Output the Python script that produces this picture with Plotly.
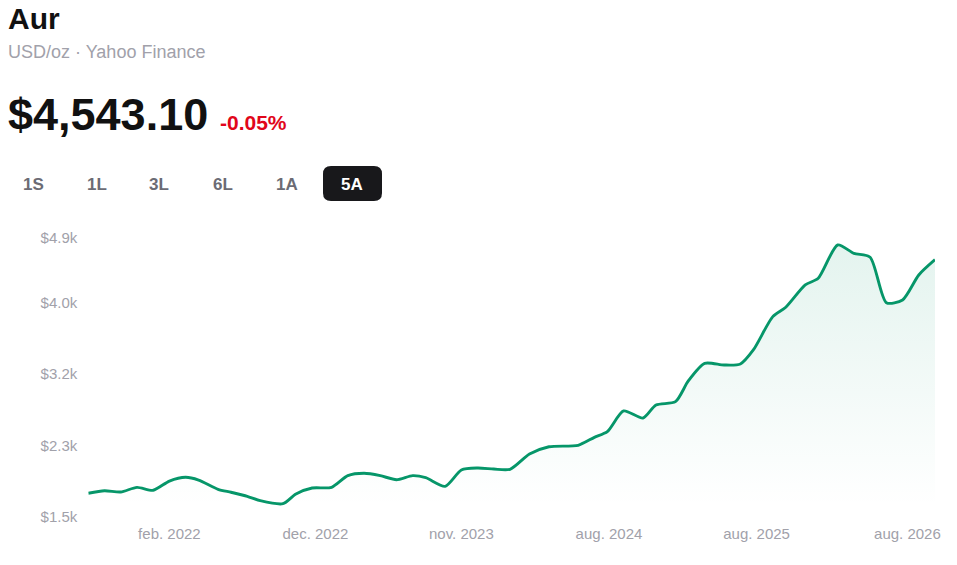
import plotly.graph_objects as go

# Gold price, 5 years (value in thousands of USD), x = week index
week = [0, 5, 10, 15, 20, 25, 30, 34, 40, 44, 49, 53, 60, 64, 69, 75, 80, 85, 90,
        95, 100, 104, 110, 115, 120, 125, 130, 136, 142, 151, 156, 160, 165, 171,
        175, 181, 185, 190, 196, 201, 205, 211, 215, 221, 225, 231, 236, 241, 246,
        251, 256, 261]
price_k = [1.759, 1.790, 1.774, 1.830, 1.795, 1.905, 1.950, 1.917, 1.807, 1.771,
           1.723, 1.671, 1.635, 1.751, 1.822, 1.830, 1.969, 1.997, 1.969, 1.921,
           1.969, 1.945, 1.842, 2.037, 2.060, 2.048, 2.045, 2.227, 2.314, 2.331,
           2.426, 2.493, 2.740, 2.656, 2.811, 2.851, 3.101, 3.308, 3.288, 3.300,
           3.467, 3.864, 3.976, 4.242, 4.321, 4.718, 4.619, 4.572, 4.031, 4.063,
           4.361, 4.5431]

x_tick_weeks = [25, 70, 115, 160.5, 206, 252.5]
x_tick_labels = ["feb. 2022", "dec. 2022", "nov. 2023", "aug. 2024", "aug. 2025", "aug. 2026"]
y_tick_vals = [1.48, 2.33, 3.18, 4.03, 4.80]
y_tick_labels = ["$1.5k", "$2.3k", "$3.2k", "$4.0k", "$4.9k"]

ranges = ["1S", "1L", "3L", "6L", "1A", "5A"]
range_x = [33, 97, 159, 223, 287, 352]
active_range = "5A"

W, H = 957, 565
OFF = 8  # page body margin
FONT = "Liberation Sans, Arial, sans-serif"
GREEN = "#069669"
GREY = "#a1a1aa"


def px(x):
    return (x - OFF) / W


def py(y):
    return 1 - (y - OFF) / H


fig = go.Figure()
fig.add_trace(go.Scatter(
    x=week, y=price_k,
    mode="lines",
    line=dict(color=GREEN, width=2.9, shape="spline", smoothing=0.7),
    fill="tozeroy",
    fillgradient=dict(type="vertical", start=1.6, stop=4.75,
                      colorscale=[[0, "rgba(6,150,105,0)"], [1, "rgba(6,150,105,0.11)"]]),
    hoverinfo="skip",
    showlegend=False,
))

annotations = [
    dict(text="<b>Aur</b>", x=px(OFF), y=py(19), font=dict(size=30, color="#111111")),
    dict(text="USD/oz · Yahoo Finance", x=px(OFF), y=py(52), font=dict(size=18, color=GREY)),
    dict(text="<b>$4,543.10</b>", x=px(OFF), y=py(114), font=dict(size=45, color="#111111")),
    dict(text="<b>-0.05%</b>", x=px(220), y=py(123), font=dict(size=21, color="#e1061a")),
]
for name, cx in zip(ranges, range_x):
    annotations.append(dict(
        text=f"<b>{name}</b>", x=px(cx), y=py(184), xanchor="center",
        font=dict(size=17, color="#ffffff" if name == active_range else "#6b6b74"),
    ))
for a in annotations:
    a.setdefault("xanchor", "left")
    a.update(xref="paper", yref="paper", yanchor="middle", showarrow=False,
             borderpad=0, borderwidth=0)

# rounded background for the active range button
x0, x1, y0, y1, r = 323, 382, 166, 201, 8
path = (f"M {px(x0 + r)} {py(y0)} L {px(x1 - r)} {py(y0)} Q {px(x1)} {py(y0)} {px(x1)} {py(y0 + r)} "
        f"L {px(x1)} {py(y1 - r)} Q {px(x1)} {py(y1)} {px(x1 - r)} {py(y1)} "
        f"L {px(x0 + r)} {py(y1)} Q {px(x0)} {py(y1)} {px(x0)} {py(y1 - r)} "
        f"L {px(x0)} {py(y0 + r)} Q {px(x0)} {py(y0)} {px(x0 + r)} {py(y0)} Z")

fig.update_layout(
    width=W, height=H,
    margin=dict(l=0, r=0, t=0, b=0),
    paper_bgcolor="white", plot_bgcolor="white",
    font=dict(family=FONT, color=GREY),
    annotations=annotations,
    shapes=[dict(type="path", path=path, xref="paper", yref="paper",
                 fillcolor="#18181b", line=dict(width=0), layer="below")],
    xaxis=dict(domain=[px(88.3), px(935)], range=[0, 261], showgrid=False, zeroline=False,
               showline=False, tickmode="array", tickvals=x_tick_weeks, ticktext=x_tick_labels,
               tickfont=dict(size=15, color=GREY), ticks="", ticklabelstandoff=6,
               automargin=False, fixedrange=True),
    yaxis=dict(domain=[py(516.7), py(231.4)], range=[1.48, 4.88], showgrid=False, zeroline=False,
               showline=False, tickmode="array", tickvals=y_tick_vals, ticktext=y_tick_labels,
               tickfont=dict(size=15, color=GREY), ticks="", ticklabelstandoff=10,
               automargin=False, fixedrange=True),
)

fig.write_html("out.html")
